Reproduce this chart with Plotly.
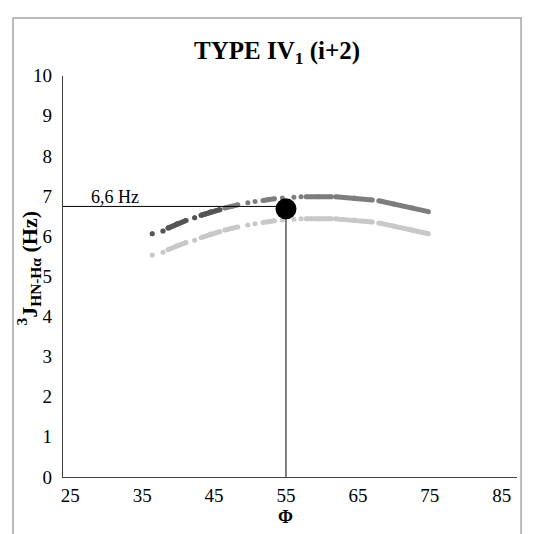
import plotly.graph_objects as go

# The page body has an 8 px margin, so the figure is shifted to fit
OFF = 8
W, H = 542 - 2 * OFF, 534 - OFF

# Data
phi_ticks = [25, 35, 45, 55, 65, 75, 85]
j_ticks = [0, 1, 2, 3, 4, 5, 6, 7, 8, 9, 10]

# dark grey series (dashes separated by None)
dark_x = [36.4, None, 37.9, None, 38.6, 39.8, 41.1, None, 42.3, None, 43.2, 44.5, 45.8, None,
          46.5, 47.4, 48.3, None, 49.7, None, 50.7, None, 51.8, 52.6, 53.4, None, 54.5, None,
          56.1, None, 57.1, None, 57.8, 59.5, 61.3, None, 61.9, 64.5, 67.0, None,
          67.9, 70.0, 72.5, 74.8]
dark_y = [6.06, None, 6.13, None, 6.20, 6.30, 6.39, None, 6.46, None, 6.52, 6.60, 6.66, None,
          6.70, 6.74, 6.78, None, 6.83, None, 6.86, None, 6.89, 6.91, 6.93, None, 6.95, None,
          6.97, None, 6.98, None, 6.98, 6.98, 6.98, None, 6.98, 6.95, 6.90, None,
          6.88, 6.80, 6.71, 6.61]

# light grey series
light_x = dark_x
light_y = [5.53, None, 5.60, None, 5.66, 5.76, 5.84, None, 5.90, None, 5.96, 6.05, 6.11, None,
           6.15, 6.19, 6.23, None, 6.28, None, 6.31, None, 6.34, 6.36, 6.38, None, 6.40, None,
           6.42, None, 6.43, None, 6.43, 6.43, 6.43, None, 6.43, 6.40, 6.35, None,
           6.33, 6.25, 6.16, 6.06]

# the first few dashes of the dark series look darker (overlapping points)
dark_head = 13

# highlighted point and reference lines
point_phi = [55]
point_j = [6.68]
hline_x = [23.97, 55]
hline_y = [6.74, 6.74]
vline_x = [55, 55]
vline_y = [0, 6.68]
ref_label = "6,6 Hz"

x_range = [23.97, 87.13]
y_range = [0, 10]


# pixel layout helpers (page pixels -> paper fractions)
def px(xp):
    return (xp - OFF) / W


def py(yp):
    return 1 - (yp - OFF) / H


FONT = "Liberation Serif, Times New Roman, serif"

fig = go.Figure()

fig.add_trace(go.Scatter(x=light_x, y=light_y, mode="lines+markers",
                         line=dict(color="#c8c8c8", width=5),
                         marker=dict(color="#c8c8c8", size=5),
                         connectgaps=False, hoverinfo="skip"))
fig.add_trace(go.Scatter(x=dark_x, y=dark_y, mode="lines+markers",
                         line=dict(color="#7d7d7d", width=5),
                         marker=dict(color="#7d7d7d", size=5),
                         connectgaps=False, hoverinfo="skip"))
fig.add_trace(go.Scatter(x=dark_x[:dark_head], y=dark_y[:dark_head], mode="lines+markers",
                         line=dict(color="#555555", width=5),
                         marker=dict(color="#555555", size=5),
                         connectgaps=False, hoverinfo="skip"))
fig.add_trace(go.Scatter(x=hline_x, y=hline_y, mode="lines",
                         line=dict(color="black", width=1), hoverinfo="skip"))
fig.add_trace(go.Scatter(x=vline_x, y=vline_y, mode="lines",
                         line=dict(color="black", width=1), hoverinfo="skip"))
fig.add_trace(go.Scatter(x=point_phi, y=point_j, mode="markers",
                         marker=dict(color="black", size=21), hoverinfo="skip"))

fig.update_layout(
    width=W, height=H,
    margin=dict(l=0, r=0, t=0, b=0),
    paper_bgcolor="white", plot_bgcolor="white",
    showlegend=False,
    font=dict(family=FONT, color="black", size=19),
    xaxis=dict(domain=[px(61), px(517)], range=x_range, tickmode="array",
               tickvals=phi_ticks, ticktext=[str(v) for v in phi_ticks],
               showgrid=False, zeroline=False, showline=True, linecolor="#404040",
               linewidth=1, ticks="", ticklabelstandoff=1,
               tickfont=dict(family=FONT, size=19, color="black")),
    yaxis=dict(domain=[py(486), py(68)], range=y_range, tickmode="array",
               tickvals=j_ticks, ticktext=[str(v) for v in j_ticks],
               showgrid=False, zeroline=False, showline=True, linecolor="#404040",
               linewidth=1, ticks="", ticklabelstandoff=6,
               tickfont=dict(family=FONT, size=19, color="black")),
    shapes=[dict(type="rect", xref="paper", yref="paper",
                 x0=px(11), x1=px(521), y0=-0.05, y1=py(8),
                 line=dict(color="#a6a6a6", width=1.5), fillcolor="rgba(0,0,0,0)")],
    annotations=[
        dict(text="<b>TYPE IV<sub>1</sub> (i+2)</b>", xref="paper", yref="paper",
             x=px(276), y=py(44), showarrow=False, xanchor="center", yanchor="middle",
             font=dict(family=FONT, size=25, color="black")),
        dict(text="<b>Φ</b>", xref="paper", yref="paper",
             x=px(285), y=py(516), showarrow=False, xanchor="center", yanchor="top",
             borderpad=0, font=dict(family=FONT, size=18, color="black")),
        dict(text="<b><sup>3</sup>J<sub>HN-Hα</sub> (Hz)</b>", xref="paper", yref="paper",
             x=px(27), y=py(268), showarrow=False, textangle=-90,
             xanchor="center", yanchor="middle",
             font=dict(family=FONT, size=22, color="black")),
        dict(text=ref_label, xref="paper", yref="paper",
             x=px(113), y=py(194), showarrow=False, xanchor="center", yanchor="middle",
             font=dict(family=FONT, size=18, color="black")),
    ],
)

fig.write_html("out.html")
